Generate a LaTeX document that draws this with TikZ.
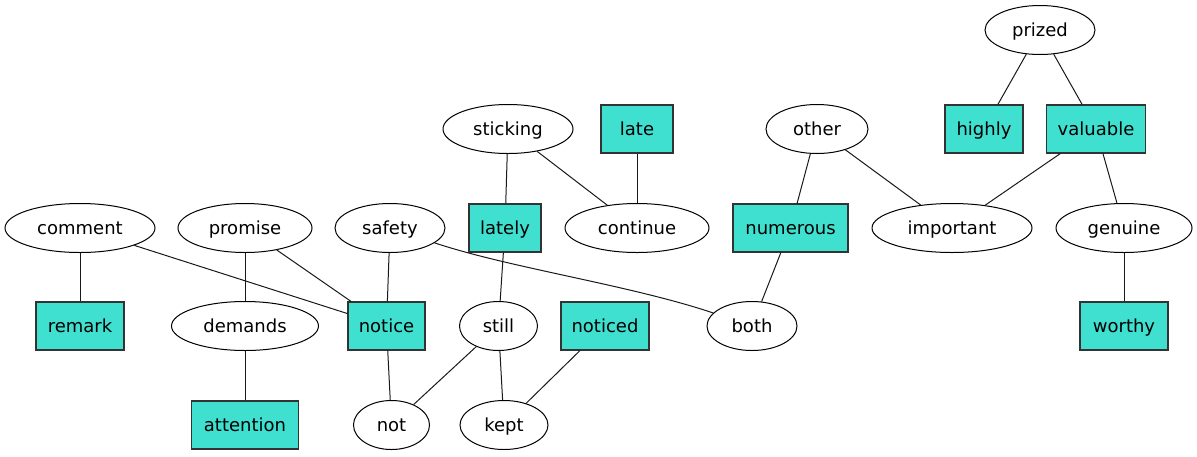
\documentclass[tikz,border=0pt]{standalone}
\usepackage{fontspec}
\setmainfont{DejaVu Sans}
\usetikzlibrary{shapes.geometric}
\definecolor{turq}{HTML}{40E0D0}
\definecolor{bord}{HTML}{333333}
\tikzset{
  ell/.style={ellipse, draw=black, line width=1pt, fill=white, inner sep=0pt, minimum height=49pt, text height=16pt, text depth=4pt, font=\fontsize{18}{20}\selectfont},
  sq/.style={rectangle, draw=bord, line width=1.1pt, fill=turq, inner sep=0pt, minimum height=48pt, text height=16pt, text depth=4pt, font=\fontsize{18}{20}\selectfont},
  edge/.style={draw=black!90, line width=1pt}
}
\begin{document}
\begin{tikzpicture}[x=1pt,y=-1pt]
\useasboundingbox (0,0) rectangle (1197,456);
% row 1
\node[ell, minimum width=110pt] (prized) at (1040,30) {prized};
% row 2
\node[sq, minimum width=78pt] (highly) at (984,129) {highly};
\node[sq, minimum width=99pt] (valuable) at (1096,129) {valuable};
\node[ell, minimum width=102pt] (other) at (817,129) {other};
\node[ell, minimum width=130pt] (sticking) at (508,129) {sticking};
\node[sq, minimum width=72pt] (late) at (637,129) {late};
% row 3
\node[ell, minimum width=150pt] (comment) at (80,228) {comment};
\node[ell, minimum width=134pt] (promise) at (245,228) {promise};
\node[ell, minimum width=110pt] (safety) at (390,228) {safety};
\node[sq, minimum width=72pt] (lately) at (505,228) {lately};
\node[ell, minimum width=144pt] (continue) at (637,228) {continue};
\node[sq, minimum width=115pt] (numerous) at (790.5,228) {numerous};
\node[ell, minimum width=160pt] (important) at (952,228) {important};
\node[ell, minimum width=136pt] (genuine) at (1124,228) {genuine};
% row 4
\node[sq, minimum width=88pt] (remark) at (80,326) {remark};
\node[ell, minimum width=147pt] (demands) at (245,326) {demands};
\node[sq, minimum width=77pt] (notice) at (386.5,326) {notice};
\node[ell, minimum width=78pt] (still) at (498.5,326) {still};
\node[sq, minimum width=88pt] (noticed) at (605,326) {noticed};
\node[ell, minimum width=90pt] (both) at (752,326) {both};
\node[sq, minimum width=88pt] (worthy) at (1124,326) {worthy};
% row 5
\node[sq, minimum width=107pt] (attention) at (245,425) {attention};
\node[ell, minimum width=76pt] (not) at (391.5,425) {not};
\node[ell, minimum width=88pt] (kept) at (504,425) {kept};
% edges
\draw[edge] (prized) -- (highly);
\draw[edge] (prized) -- (valuable);
\draw[edge] (valuable) -- (important);
\draw[edge] (valuable) -- (genuine);
\draw[edge] (other) -- (numerous);
\draw[edge] (other) -- (important);
\draw[edge] (sticking) -- (lately);
\draw[edge] (sticking) -- (continue);
\draw[edge] (late) -- (continue);
\draw[edge] (comment) -- (remark);
\draw[edge] (comment) -- (notice);
\draw[edge] (promise) -- (demands);
\draw[edge] (promise) -- (notice);
\draw[edge] (safety) -- (notice);
\draw[edge] (safety) .. controls (510,268) and (630,285) .. (both);
\draw[edge] (lately) -- (still);
\draw[edge] (numerous) -- (both);
\draw[edge] (genuine) -- (worthy);
\draw[edge] (demands) -- (attention);
\draw[edge] (notice) -- (not);
\draw[edge] (still) -- (not);
\draw[edge] (still) -- (kept);
\draw[edge] (noticed) -- (kept);
\end{tikzpicture}
\end{document}
